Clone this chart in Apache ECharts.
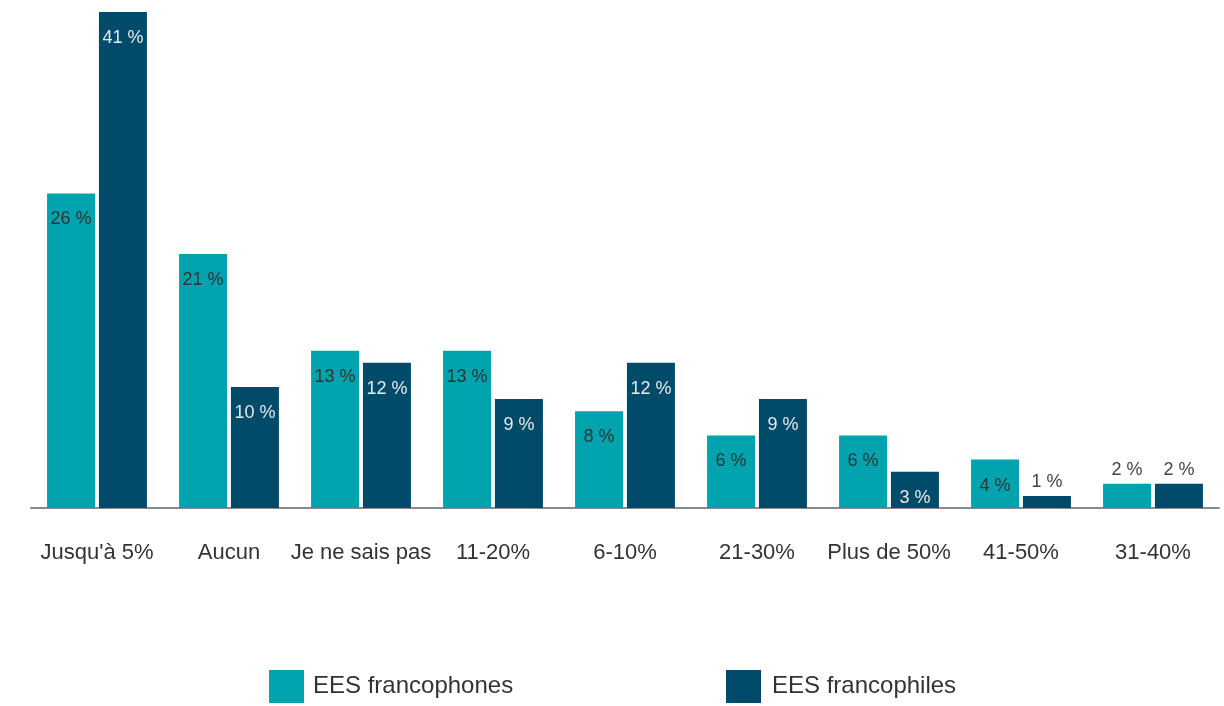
<!DOCTYPE html>
<html>
<head>
<meta charset="utf-8">
<script src="https://cdn.jsdelivr.net/npm/echarts@6/dist/echarts.min.js"></script>
<style>html,body{margin:0;padding:0;background:#fff}#c{width:1224px;height:706px}</style>
</head>
<body>
<div id="c"></div>
<script>
const categories = ["Jusqu'à 5%", "Aucun", "Je ne sais pas", "11-20%", "6-10%", "21-30%", "Plus de 50%", "41-50%", "31-40%"];
const francophones = [26, 21, 13, 13, 8, 6, 6, 4, 2];
const francophiles = [41, 10, 12, 9, 12, 9, 3, 1, 2];
const seriesNames = ["EES francophones", "EES francophiles"];

const FONT = "'Liberation Sans', Arial, sans-serif";
const colors = ["#00A3AE", "#004A6A"];
const insideColors = ["#333333", "#e8e8e8"];

function buildData(values, idx) {
  return values.map(v => {
    if (v < 3) {
      return { value: v, label: { position: 'top', distance: 5, color: '#444444' } };
    }
    return { value: v, label: { position: 'insideTop', distance: 17, color: insideColors[idx] } };
  });
}

const chart = echarts.init(document.getElementById('c'), null, { renderer: 'canvas' });
chart.setOption({
  animation: false,
  backgroundColor: '#ffffff',
  grid: { left: 31, right: 5, top: 12, bottom: 198, containLabel: false },
  xAxis: {
    type: 'category',
    data: categories,
    axisLine: { lineStyle: { color: '#8a8a8a', width: 2 } },
    axisTick: { show: false },
    axisLabel: { color: '#333333', fontSize: 22, fontFamily: FONT, margin: 34, interval: 0 }
  },
  yAxis: {
    type: 'value', min: 0, max: 41,
    show: false, splitLine: { show: false }
  },
  legend: [
    { data: [seriesNames[0]], left: 264, top: 665, itemWidth: 35, itemHeight: 33, icon: 'rect',
      textStyle: { fontSize: 24, fontFamily: FONT, color: '#333333', padding: [0, 0, 0, 4] } },
    { data: [seriesNames[1]], left: 721, top: 665, itemWidth: 35, itemHeight: 33, icon: 'rect',
      textStyle: { fontSize: 24, fontFamily: FONT, color: '#333333', padding: [0, 0, 0, 6] } }
  ],
  series: [francophones, francophiles].map((vals, i) => ({
    name: seriesNames[i],
    type: 'bar',
    data: buildData(vals, i),
    barWidth: 48,
    barGap: '8%',
    itemStyle: { color: colors[i] },
    label: {
      show: true,
      formatter: p => p.value + ' %',
      fontSize: 18,
      fontFamily: FONT
    }
  }))
});
</script>
</body>
</html>
